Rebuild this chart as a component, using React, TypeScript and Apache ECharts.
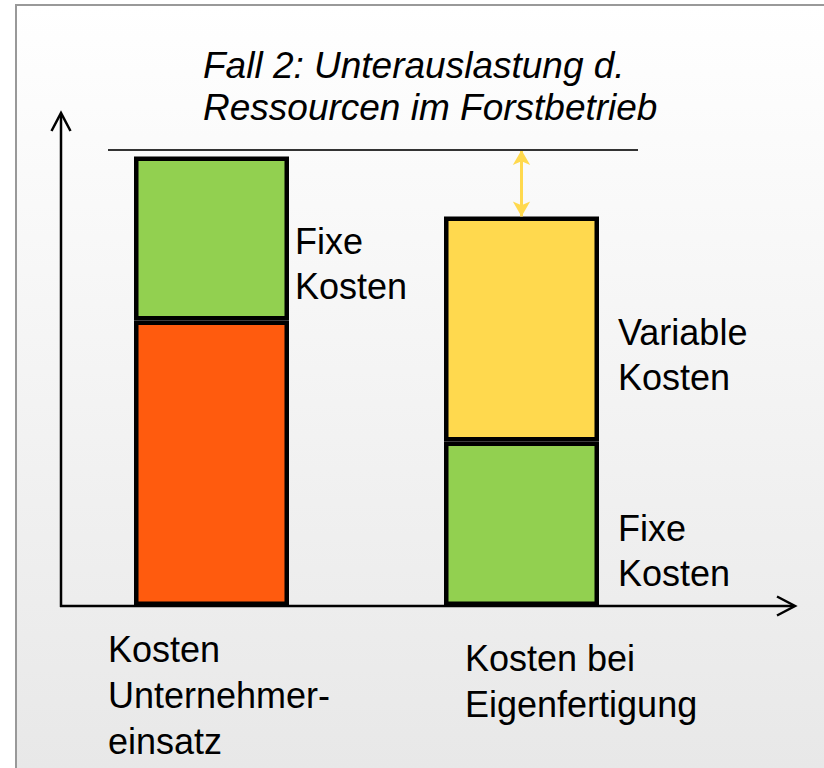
import React, { useEffect, useRef } from "react";
import * as echarts from "echarts";

const categories = ["Kosten\nUnternehmer-\neinsatz", "Kosten bei\nEigenfertigung"];
const unternehmerKosten = [285.5, "-"];
const fixeKosten = [164, 164.5];
const variableKosten = ["-", 225];
const fixeLabel = "Fixe\nKosten";
const variableLabel = "Variable\nKosten";
const referenceLevel = 456;
const titleText = "Fall 2: Unterauslastung d.\nRessourcen im Forstbetrieb";

const FONT = "'Liberation Sans', Arial, sans-serif";
const GREEN = "#92D050";
const ORANGE = "#FF5B0E";
const YELLOW = "#FFD94E";
const LABEL_SIZE = 36;

export default function App() {
  const ref = useRef<HTMLDivElement>(null);
  useEffect(() => {
    if (!ref.current) return;
    const chart = echarts.init(ref.current, null, { renderer: "svg" });
    const labelStyle = {
      show: true,
      position: "right",
      color: "#000",
      fontSize: LABEL_SIZE,
      lineHeight: 45,
      fontFamily: FONT,
      align: "left",
    };
    const barStyle = { borderColor: "#000", borderWidth: 4.5 };
    chart.setOption({
      animation: false,
      title: {
        text: titleText,
        left: 203,
        top: 44,
        padding: 0,
        textStyle: {
          fontFamily: FONT,
          fontStyle: "italic",
          fontWeight: "normal",
          fontSize: 37,
          lineHeight: 42,
          color: "#000",
        },
      },
      grid: { left: 56.5, right: 147.5, top: 115, bottom: 162 },
      xAxis: {
        type: "category",
        data: categories,
        axisLine: { show: false },
        axisTick: { show: false },
        axisLabel: { show: false },
      },
      yAxis: {
        type: "value",
        min: 0,
        max: 491,
        show: false,
      },
      series: [
        {
          name: "Unternehmereinsatz",
          type: "bar",
          stack: "k",
          barWidth: 155,
          data: unternehmerKosten,
          itemStyle: { ...barStyle, color: ORANGE },
          silent: true,
        },
        {
          name: "Fixe Kosten",
          type: "bar",
          stack: "k",
          barWidth: 155,
          itemStyle: { ...barStyle, color: GREEN },
          silent: true,
          data: [
            { value: fixeKosten[0], label: { ...labelStyle, distance: 6, offset: [0, 25], formatter: fixeLabel } },
            { value: fixeKosten[1], label: { ...labelStyle, distance: 19, offset: [0, 27], formatter: fixeLabel } },
          ],
        },
        {
          name: "Variable Kosten",
          type: "bar",
          stack: "k",
          barWidth: 155,
          itemStyle: { ...barStyle, color: YELLOW },
          silent: true,
          data: [
            variableKosten[0],
            { value: variableKosten[1], label: { ...labelStyle, distance: 19, offset: [0, 26], formatter: variableLabel } },
          ],
          markLine: {
            silent: true,
            symbol: ["arrow", "arrow"],
            symbolSize: [13, 15],
            label: { show: false },
            lineStyle: { color: YELLOW, width: 3, type: "solid" },
            data: [[{ coord: [1, referenceLevel] }, { coord: [1, (fixeKosten[1] as number) + (variableKosten[1] as number)] }]],
          },
        },
      ],
      graphic: [
        {
          type: "rect",
          z: -100,
          silent: true,
          shape: { x: 16, y: 5, width: 808, height: 763 },
          style: {
            fill: new echarts.graphic.LinearGradient(0, 0, 0, 1, [
              { offset: 0, color: "#ffffff" },
              { offset: 1, color: "#e8e8e8" },
            ]),
          },
        },
        { type: "line", z: 50, shape: { x1: 15, y1: 5, x2: 824, y2: 5 }, style: { stroke: "#999", lineWidth: 2 } },
        { type: "line", z: 50, shape: { x1: 16, y1: 4, x2: 16, y2: 768 }, style: { stroke: "#999", lineWidth: 2 } },
        { type: "line", z: 50, shape: { x1: 61, y1: 607, x2: 61, y2: 114 }, style: { stroke: "#000", lineWidth: 2.5 } },
        { type: "polyline", z: 50, shape: { points: [[51.5, 131], [61, 113], [70.5, 131]] }, style: { stroke: "#000", lineWidth: 2.5, fill: null } },
        { type: "line", z: 50, shape: { x1: 60, y1: 606, x2: 794, y2: 606 }, style: { stroke: "#000", lineWidth: 2.5 } },
        { type: "polyline", z: 50, shape: { points: [[777, 596.5], [795, 606], [777, 615.5]] }, style: { stroke: "#000", lineWidth: 2.5, fill: null } },
        { type: "line", z: 50, shape: { x1: 108, y1: 150, x2: 638, y2: 150 }, style: { stroke: "#333", lineWidth: 2 } },
        {
          type: "text",
          z: 50,
          x: 108,
          y: 626,
          style: { text: categories[0], font: `${LABEL_SIZE}px ${FONT}`, fill: "#000", lineHeight: 46, verticalAlign: "top", align: "left" },
        },
        {
          type: "text",
          z: 50,
          x: 465,
          y: 635,
          style: { text: categories[1], font: `${LABEL_SIZE}px ${FONT}`, fill: "#000", lineHeight: 46, verticalAlign: "top", align: "left" },
        },
      ],
    });
    return () => chart.dispose();
  }, []);
  return <div ref={ref} style={{ position: "absolute", left: 0, top: 0, width: 824, height: 768 }} />;
}
